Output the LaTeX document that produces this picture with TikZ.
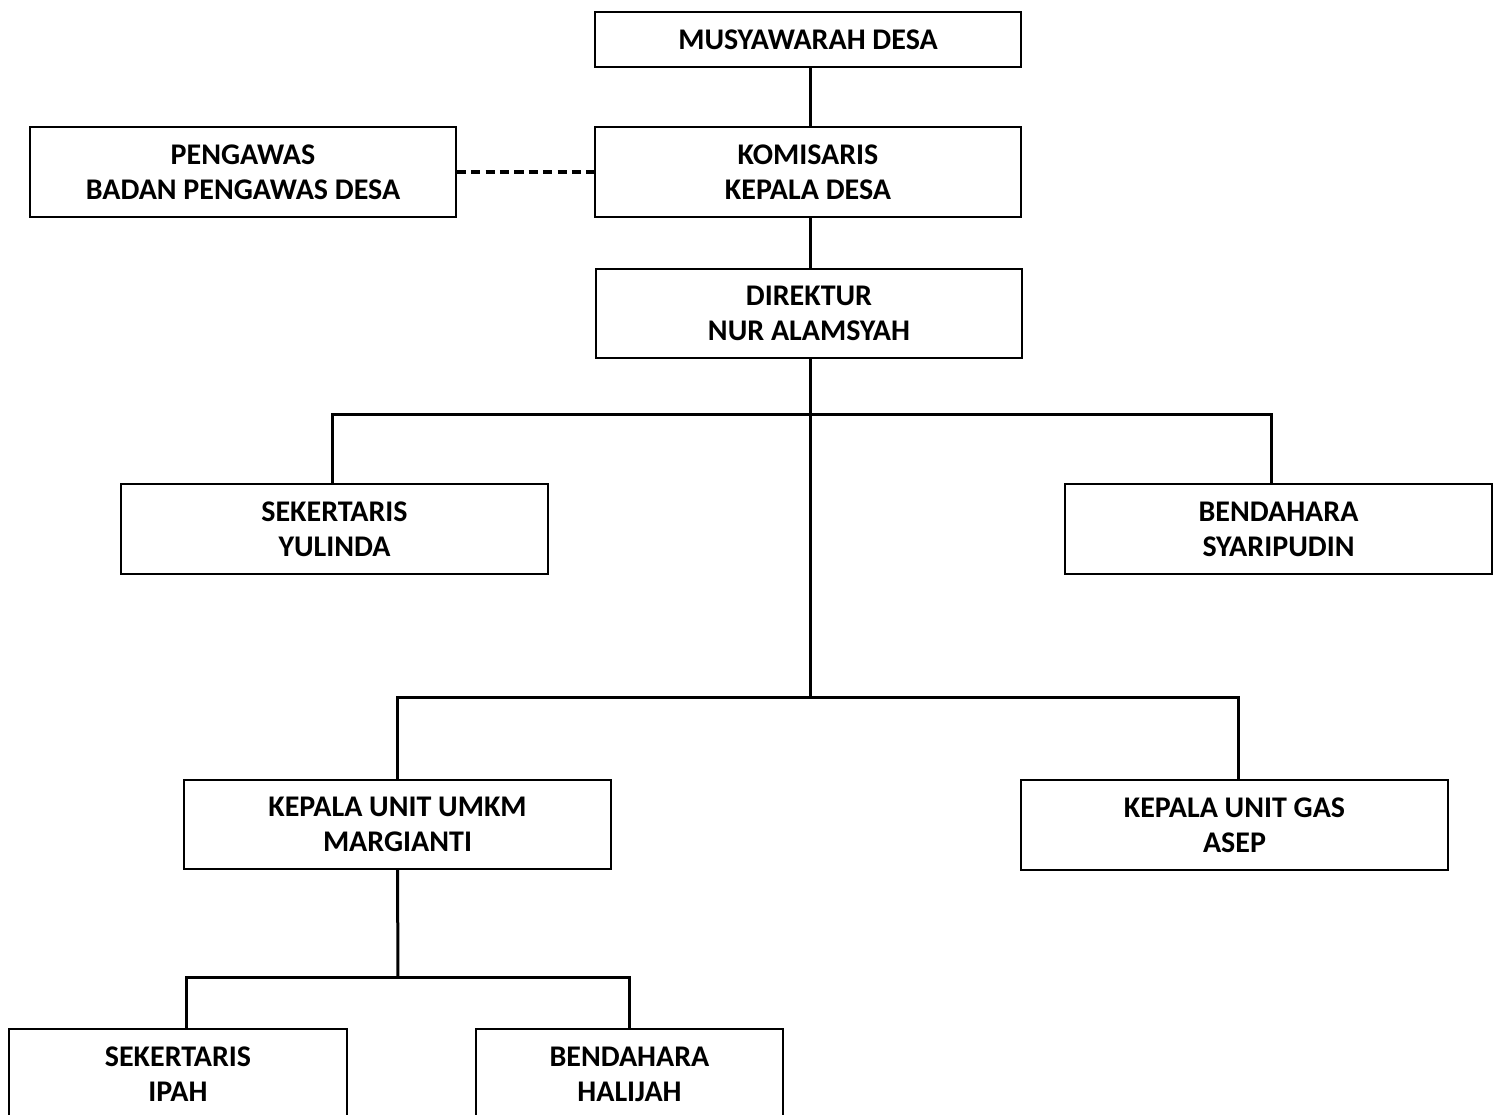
\documentclass[tikz,border=0pt]{standalone}
\usepackage{fontspec}
\setmainfont{Carlito}
\usepackage{tikz}
\usetikzlibrary{calc}
\tikzstyle{box} = [draw, line width=0.7pt, align=center, inner sep=0pt,
  font=\fontsize{15}{17.5}\selectfont\bfseries]
\tikzstyle{link} = [line width=1.5pt]

\begin{document}
\begin{tikzpicture}[x=0.5pt,y=-0.5pt]
\useasboundingbox (0,0) rectangle (1501,1115);

    \node[box, minimum width=213pt, minimum height=27.5pt] (musdes) at (808,39.5) {MUSYAWARAH DESA};
    \node[box, minimum width=213pt, minimum height=45pt] (komisaris) at (808,172) {KOMISARIS\\KEPALA DESA};
    \node[box, minimum width=213pt, minimum height=45pt] (pengawas) at (243,172) {PENGAWAS\\BADAN PENGAWAS DESA};
    \node[box, minimum width=213pt, minimum height=44.5pt] (direktur) at (809,313.5) {DIREKTUR\\NUR ALAMSYAH};

    \node[box, minimum width=213.5pt, minimum height=45pt] (sekretaris) at (334.5,529) {SEKERTARIS\\YULINDA};
    \node[box, minimum width=213.5pt, minimum height=45pt] (bendahara) at (1278.5,529) {BENDAHARA\\SYARIPUDIN};

    \node[box, minimum width=213.5pt, minimum height=44.5pt] (umkm) at (397.5,824.5) {KEPALA UNIT UMKM\\MARGIANTI};
    \node[box, minimum width=213.5pt, minimum height=45pt] (gas) at (1234.5,825) {KEPALA UNIT GAS\\ASEP};

    \node[box, minimum width=169pt, minimum height=45pt] (sekipah) at (178,1074) {SEKERTARIS\\IPAH};
    \node[box, minimum width=153.5pt, minimum height=45pt] (benhal) at (629.5,1074) {BENDAHARA\\HALIJAH};

% joints of the tree
    \coordinate (top1) at (810,414);
    \coordinate (top2) at (810,697);
    \coordinate (low1) at (398,977);

    \draw[link] (musdes.south -| 810,0) -- (komisaris.north -| 810,0);
    \draw[link] (komisaris.south -| 810,0) -- (direktur.north -| 810,0);
    \draw[link] (direktur.south -| 810,0) -- (top2);
    \draw[link] (sekretaris.north -| 332,0) |- (top1) -| (bendahara.north -| 1271,0);
    \draw[link] (umkm.north) |- (top2) -| (gas.north -| 1238,0);
    \draw[link] (umkm.south) -- (low1);
    \draw[link] (sekipah.north -| 186,0) |- (low1) -| (benhal.north);
    \draw[line width=2pt, dash pattern=on 4.6pt off 2.6pt] (pengawas.east) -- (komisaris.west);
\end{tikzpicture}
\end{document}
